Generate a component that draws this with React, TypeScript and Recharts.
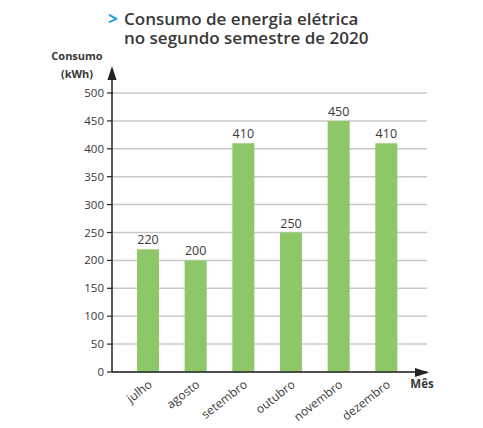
import React from 'react';
import { BarChart, Bar, XAxis, YAxis, CartesianGrid, LabelList } from 'recharts';

const months = ['julho', 'agosto', 'setembro', 'outubro', 'novembro', 'dezembro'];
const consumo = [220, 200, 410, 250, 450, 410];
const yTicks = [0, 50, 100, 150, 200, 250, 300, 350, 400, 450, 500];

const data = months.map((mes, i) => ({ mes, consumo: consumo[i] }));

const FONT = '"Open Sans", sans-serif';
const TEXT = '#383838';

const MonthTick = (props: any) => {
  const { x, y, payload } = props;
  const tx = x + 5;
  const ty = y + 6;
  return (
    <text
      x={tx}
      y={ty}
      textAnchor="end"
      fontFamily={FONT}
      fontSize={12}
      fill={TEXT}
      transform={`rotate(-38, ${tx}, ${ty})`}
    >
      {payload.value}
    </text>
  );
};

export default function App() {
  return (
    <div style={{ position: 'absolute', left: 0, top: 0, width: 483, height: 428, background: '#fff' }}>
      <BarChart
        width={483}
        height={428}
        data={data}
        margin={{ top: 93, right: 56, bottom: 6, left: 0 }}
      >
        <CartesianGrid vertical={false} stroke="#c8c8c8" strokeWidth={1.5} />
        <XAxis
          dataKey="mes"
          height={50}
          padding={{ left: 12, right: 17 }}
          tick={<MonthTick />}
          tickLine={false}
          axisLine={{ stroke: '#222', strokeWidth: 1.5 }}
          interval={0}
        />
        <YAxis
          width={112}
          domain={[0, 500]}
          ticks={yTicks}
          interval={0}
          tickSize={5}
          tickMargin={3}
          tickLine={{ stroke: '#222', strokeWidth: 1.2 }}
          axisLine={{ stroke: '#222', strokeWidth: 1.5 }}
          tick={{ fontFamily: FONT, fontSize: 11.5, fill: TEXT }}
        />
        <Bar dataKey="consumo" fill="#8dc767" barSize={22} isAnimationActive={false}>
          <LabelList
            dataKey="consumo"
            position="top"
            offset={5}
            style={{ fontFamily: FONT, fontSize: 12.5, fill: TEXT }}
          />
        </Bar>
      </BarChart>
      <svg
        width={483}
        height={428}
        style={{ position: 'absolute', left: 0, top: 0, pointerEvents: 'none' }}
      >
        <line x1={112} y1={94} x2={112} y2={76} stroke="#222" strokeWidth={1.5} />
        <polygon points="112,66 107.5,80 116.5,80" fill="#222" />
        <polygon points="429,372.5 415,368 415,377" fill="#222" />
        <text x={108} y={25} fontFamily={FONT} fontSize={17} fontWeight={700} fill="#1e9fdc">&gt;</text>
        <text fontFamily={FONT} fontSize={17} fontWeight={600} fill={TEXT}>
          <tspan x={124} y={25}>Consumo de energia elétrica</tspan>
          <tspan x={124} y={44}>no segundo semestre de 2020</tspan>
        </text>
        <text fontFamily={FONT} fontSize={11} fontWeight={700} fill={TEXT} textAnchor="middle">
          <tspan x={77} y={60}>Consumo</tspan>
          <tspan x={77} y={78}>(kWh)</tspan>
        </text>
        <text x={422} y={388} textAnchor="middle" fontFamily={FONT} fontSize={11.5} fontWeight={700} fill={TEXT}>
          Mês
        </text>
      </svg>
    </div>
  );
}
